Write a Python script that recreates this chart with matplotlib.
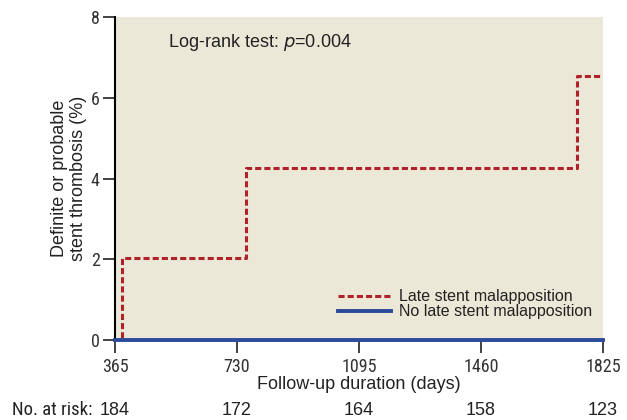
import numpy as np
import matplotlib.pyplot as plt

# Data
days_lsm = [365, 386, 757, 1747, 1825]
rate_lsm = [0.0, 2.03, 4.26, 6.53, 6.53]
days_no = [365, 1825]
rate_no = [0.0, 0.0]
x_ticks = [365, 730, 1095, 1460, 1825]
y_ticks = [0, 2, 4, 6, 8]
at_risk = [184, 172, 164, 158, 123]

narrow = ['Roboto Condensed', 'DejaVu Sans']
plt.rcParams['font.family'] = ['Liberation Sans', 'DejaVu Sans']

fig = plt.figure(figsize=(6.27, 4.2), dpi=100)
ax = fig.add_axes([0.1834, 0.1905, 0.7783, 0.769])
ax.set_facecolor('#ECE8D8')

ax.step(days_lsm, rate_lsm, where='post', color='#B0222A', lw=2.2,
        linestyle=(0, (2.0, 1.0)), label='Late stent malapposition', zorder=3)
ax.plot(days_no, rate_no, color='#2A4A9C', lw=2.8,
        label='No late stent malapposition', zorder=4, clip_on=False)

ax.set_xlim(365, 1825)
ax.set_ylim(0, 8)
ax.set_xticks(x_ticks)
ax.set_yticks(y_ticks)
ax.set_xticklabels([str(t) for t in x_ticks], family=narrow, fontsize=13, color='#333333')
ax.set_yticklabels([str(t) for t in y_ticks], family=narrow, fontsize=13, color='#333333')
ax.tick_params(axis='both', direction='out', length=9, width=1.2, color='#222222')
ax.tick_params(axis='x', pad=4)
ax.tick_params(axis='y', pad=2)
for s in ['top', 'right']:
    ax.spines[s].set_visible(False)
ax.spines['left'].set_linewidth(1.5)
ax.spines['bottom'].set_visible(False)

ax.set_xlabel('Follow-up duration (days)', fontsize=13, color='#222222', labelpad=0)
ax.set_ylabel('Definite or probable\nstent thrombosis (%)', fontsize=13,
              color='#222222', labelpad=3, linespacing=1.1)

ax.text(0.108, 0.955, 'Log-rank test: $p$=0.004', transform=ax.transAxes,
        fontsize=13, color='#222222', va='top', ha='left')

ax.legend(loc='lower right', frameon=False, fontsize=11.5, handlelength=3.3,
          handletextpad=0.5, labelspacing=0.0, borderaxespad=0.3,
          bbox_to_anchor=(1.0, 0.03), labelcolor='#222222')

# Numbers at risk
y_risk = -0.217
ax.text(-0.211, y_risk, 'No. at risk:', transform=ax.transAxes, family=narrow,
        fontsize=13.5, color='#222222', ha='left', va='center')
for d, n in zip(x_ticks, at_risk):
    ax.text(d, y_risk, str(n), transform=ax.get_xaxis_transform(),
            fontsize=13, color='#222222', ha='center', va='center')

fig.savefig('out.png', dpi=100)
